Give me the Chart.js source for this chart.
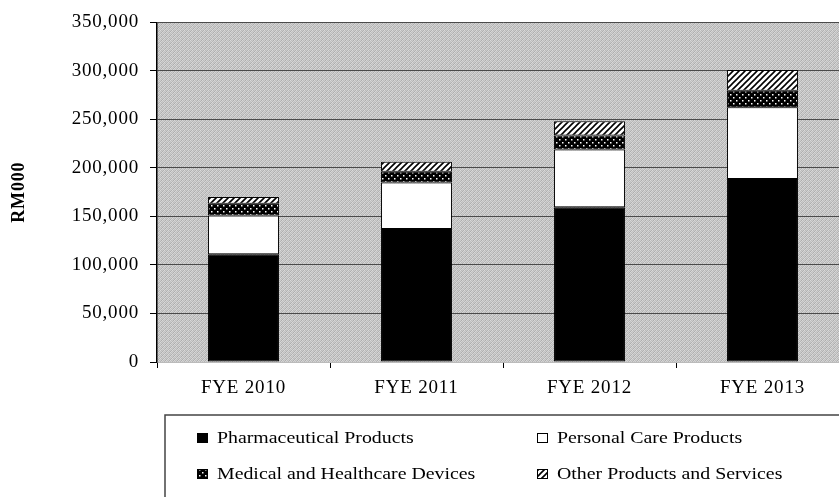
<!DOCTYPE html>
<html>
<head>
<meta charset="utf-8">
<script src="https://cdn.jsdelivr.net/npm/chart.js@4"></script>
<style>
  html, body { margin: 0; padding: 0; background: #fff; overflow: hidden; }
  #wrap { width: 852px; height: 497px; position: relative; }
</style>
</head>
<body>
<div id="wrap"><canvas id="myChart"></canvas></div>
<script>
const years = ['FYE 2010', 'FYE 2011', 'FYE 2012', 'FYE 2013'];
const pharma = [111000, 137000, 159500, 188500];
const personalCare = [40000, 48000, 59500, 74000];
const medical = [12000, 11000, 14500, 17000];
const other = [7000, 10500, 14500, 21500];
const seriesNames = ['Pharmaceutical Products', 'Personal Care Products', 'Medical and Healthcare Devices', 'Other Products and Services'];

const serif = '"Liberation Serif", "Times New Roman", serif';

// small tiles for the fills
const makeTile = (size, draw) => {
    const c = document.createElement('canvas');
    c.width = size; c.height = size;
    draw(c.getContext('2d'), size);
    return document.createElement('canvas').getContext('2d').createPattern(c, 'repeat');
};

const dots = makeTile(6, (ctx) => {
    ctx.fillStyle = '#000';
    ctx.fillRect(0, 0, 6, 6);
    ctx.fillStyle = '#fff';
    ctx.fillRect(1, 1, 1.5, 1.5);
    ctx.fillRect(4, 4, 1.5, 1.5);
});

const hatch = makeTile(6, (ctx, s) => {
    ctx.fillStyle = '#fff';
    ctx.fillRect(0, 0, s, s);
    ctx.strokeStyle = '#000';
    ctx.lineWidth = 1.6;
    ctx.beginPath();
    ctx.moveTo(-1, s + 1); ctx.lineTo(s + 1, -1);
    ctx.moveTo(-1, 1); ctx.lineTo(1, -1);
    ctx.moveTo(s - 1, s + 1); ctx.lineTo(s + 1, s - 1);
    ctx.stroke();
});

const stipple = makeTile(4, (ctx) => {
    const g = ['#cdcdcd', '#adadad', '#d8d8d8', '#bcbcbc',
               '#b6b6b6', '#d4d4d4', '#c0c0c0', '#d3d3d3',
               '#dadada', '#b8b8b8', '#cacaca', '#b2b2b2',
               '#c1c1c1', '#cfcfcf', '#aeaeae', '#d6d6d6'];
    g.forEach((col, i) => { ctx.fillStyle = col; ctx.fillRect(i % 4, Math.floor(i / 4), 1, 1); });
});

// the scan is stretched sideways, so widen the axis text a little
const plotBg = {
    id: 'plotBg',
    beforeDraw(chart) {
        const { ctx, chartArea: a } = chart;
        ctx.save();
        ctx.fillStyle = stipple;
        ctx.fillRect(a.left, a.top, a.right - a.left, a.bottom - a.top);
        ctx.restore();
        ctx.letterSpacing = '0.8px';
    },
    beforeDatasetsDraw(chart) {
        chart.ctx.letterSpacing = '0px';
    }
};

const legendBox = {
    id: 'legendBox',
    afterDraw(chart) {
        const ctx = chart.ctx;
        const fills = chart.data.datasets.map(d => d.backgroundColor);
        ctx.save();
        ctx.letterSpacing = '0px';
        ctx.strokeStyle = '#444';
        ctx.lineWidth = 1.5;
        ctx.strokeRect(165, 415, 720, 120);
        const cols = [197, 537];
        const rows = [438, 474];
        chart.data.datasets.forEach((d, i) => {
            const x = cols[i % 2], y = rows[Math.floor(i / 2)];
            ctx.fillStyle = fills[i];
            ctx.fillRect(x, y - 5, 11, 10);
            ctx.strokeStyle = '#000';
            ctx.lineWidth = 1;
            ctx.strokeRect(x + 0.5, y - 4.5, 10, 9);
            ctx.save();
            ctx.translate(x + 20, y + 1);
            ctx.scale(1.24, 1);
            ctx.font = '16px ' + serif;
            ctx.textBaseline = 'middle';
            ctx.fillStyle = '#000';
            ctx.fillText(d.label, 0, 0);
            ctx.restore();
        });
        ctx.restore();
    }
};

new Chart(document.getElementById('myChart'), {
    type: 'bar',
    data: {
        labels: years,
        datasets: [
            { label: seriesNames[0], data: pharma, backgroundColor: '#000' },
            { label: seriesNames[1], data: personalCare, backgroundColor: '#fff' },
            { label: seriesNames[2], data: medical, backgroundColor: dots },
            { label: seriesNames[3], data: other, backgroundColor: hatch }
        ].map(d => Object.assign(d, {
            borderColor: '#000',
            borderWidth: 1,
            borderSkipped: false,
            categoryPercentage: 1,
            barPercentage: 0.41
        }))
    },
    options: {
        responsive: true,
        maintainAspectRatio: false,
        animation: false,
        layout: { padding: { top: 21, right: 3, left: 9, bottom: 0 } },
        plugins: {
            legend: { display: false },
            tooltip: { enabled: false }
        },
        scales: {
            x: {
                stacked: true,
                grid: { display: true, drawOnChartArea: false, offset: true, tickLength: 6, tickColor: '#000' },
                border: { color: '#bbb', width: 1 },
                ticks: { color: '#000', font: { family: serif, size: 19 }, padding: 9 },
                afterFit(scale) { scale.height = 135; }
            },
            y: {
                stacked: true,
                min: 0,
                max: 350000,
                grid: { color: '#4a4a4a', lineWidth: 1, tickLength: 7, tickColor: '#000' },
                border: { color: '#000', width: 1.5 },
                ticks: {
                    stepSize: 50000,
                    color: '#000',
                    font: { family: serif, size: 19 },
                    padding: 11,
                    callback: v => v.toLocaleString('en-US')
                },
                title: {
                    display: true,
                    text: 'RM000',
                    color: '#000',
                    font: { family: serif, size: 18, weight: 'bold' },
                    padding: { top: 0, bottom: 0 }
                },
                afterFit(scale) { scale.width = 148; }
            }
        }
    },
    plugins: [plotBg, legendBox]
});
</script>
</body>
</html>
